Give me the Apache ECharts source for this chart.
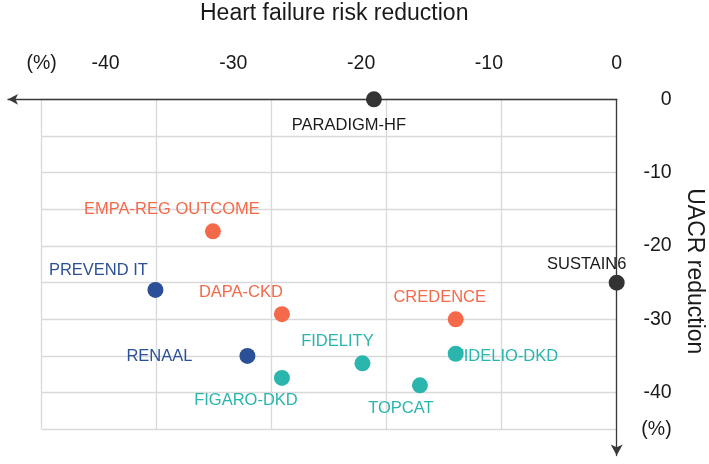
<!DOCTYPE html>
<html>
<head>
<meta charset="utf-8">
<script src="https://cdn.jsdelivr.net/npm/echarts@6/dist/echarts.min.js"></script>
<style>
  html, body { margin: 0; padding: 0; background: #fff; }
  #chart { width: 709px; height: 464px; }
</style>
</head>
<body>
<div id="chart"></div>
<script>
// ---- data ----
const trials = ['PARADIGM-HF', 'SUSTAIN6', 'EMPA-REG OUTCOME', 'DAPA-CKD', 'CREDENCE',
  'PREVEND IT', 'RENAAL', 'FIGARO-DKD', 'FIDELITY', 'TOPCAT', 'FIDELIO-DKD'];
const hfRiskReduction = [-19, 0, -31.6, -26.2, -12.6, -36.1, -28.9, -26.2, -19.9, -15.4, -12.6];
const uacrReduction = [0, -25, -18, -29.3, -30, -26, -35, -38, -36, -39, -34.7];
const drugClass = ['Other', 'Other', 'SGLT2i', 'SGLT2i', 'SGLT2i', 'RASi', 'RASi', 'MRA', 'MRA', 'MRA', 'MRA'];
const classes = ['Other', 'SGLT2i', 'RASi', 'MRA'];
const xTickLabels = ['-40', '-30', '-20', '-10', '0'];
const yTickLabels = ['0', '-10', '-20', '-30', '-40'];
const unitLabel = '(%)';

// ---- styles ----
const classColor = { Other: '#333333', SGLT2i: '#F4694A', RASi: '#2C5097', MRA: '#2AB5AD' };
const labelColor = { Other: '#1a1a1a', SGLT2i: '#F4694A', RASi: '#2C5097', MRA: '#2AB5AD' };
const labelPlace = {
  'PARADIGM-HF': { offset: [-25, 26] },
  'SUSTAIN6': { offset: [-30, -18] },
  'EMPA-REG OUTCOME': { offset: [-41, -22] },
  'DAPA-CKD': { offset: [-41, -22] },
  'CREDENCE': { offset: [-16, -22] },
  'PREVEND IT': { offset: [-57, -20] },
  'RENAAL': { offset: [-88, 0] },
  'FIGARO-DKD': { offset: [-36, 22] },
  'FIDELITY': { offset: [-25, -22] },
  'TOPCAT': { offset: [-19, 23] },
  'FIDELIO-DKD': { offset: [-2, 3], align: 'left' }
};
const FONT = "'Liberation Sans', Arial, sans-serif";

const markerSeries = classes.map(c => ({
  type: 'scatter',
  name: c,
  xAxisIndex: 0,
  yAxisIndex: 0,
  z: 4,
  symbolSize: 16,
  itemStyle: { color: classColor[c], opacity: 1 },
  data: trials.map((t, i) => drugClass[i] === c ? [hfRiskReduction[i], uacrReduction[i]] : null)
              .filter(d => d !== null)
}));

const labelSeries = {
  type: 'scatter',
  name: 'labels',
  xAxisIndex: 0,
  yAxisIndex: 0,
  z: 2,
  symbolSize: 1,
  itemStyle: { color: 'rgba(255,255,255,0)', opacity: 1 },
  silent: true,
  data: trials.map((t, i) => ({
    value: [hfRiskReduction[i], uacrReduction[i]],
    name: t,
    label: {
      show: true,
      position: 'inside',
      formatter: t,
      color: labelColor[drugClass[i]],
      opacity: 1,
      fontFamily: FONT,
      fontSize: 16.5,
      offset: labelPlace[t].offset,
      align: labelPlace[t].align || 'center',
      verticalAlign: 'middle'
    }
  }))
};

const gridColor = '#d9d9d9';
const axisColor = '#3a3a3a';

const option = {
  animation: false,
  backgroundColor: '#ffffff',
  grid: [
    { left: 41.7, right: 92.3, top: 99.3, bottom: 34.7, containLabel: false, outerBoundsMode: 'none' },
    { left: 8, right: 92.3, top: 99.3, bottom: 8.5, containLabel: false, outerBoundsMode: 'none' }
  ],
  xAxis: [
    {
      gridIndex: 0, type: 'value', position: 'top', min: -45, max: 0, interval: 5,
      name: 'Heart failure risk reduction', nameLocation: 'middle', nameGap: 74,
      nameTextStyle: { fontFamily: FONT, fontSize: 23, color: '#1a1a1a', padding: [0, 0, 0, 10] },
      axisLine: { show: false, onZero: false },
      axisTick: { show: false },
      splitLine: { show: false },
      axisLabel: {
        fontFamily: FONT, fontSize: 19.5, color: '#1a1a1a', margin: 26,
        formatter: v => v === -45 ? unitLabel : (xTickLabels.includes(String(v)) ? String(v) : '')
      }
    },
    {
      gridIndex: 0, type: 'value', position: 'bottom', min: -45, max: 0, interval: 9,
      axisLine: { show: false, onZero: false },
      axisTick: { show: false },
      axisLabel: { show: false },
      splitLine: { show: true, lineStyle: { color: gridColor, width: 1.3 } }
    },
    {
      gridIndex: 1, type: 'value', position: 'top', min: 0, max: 1,
      axisLine: {
        show: true, onZero: false, symbol: ['arrow', 'none'], symbolSize: [8, 10],
        lineStyle: { color: axisColor, width: 1.3 }
      },
      axisTick: { show: false },
      axisLabel: { show: false },
      splitLine: { show: false }
    }
  ],
  yAxis: [
    {
      gridIndex: 0, type: 'value', position: 'right', min: -45, max: 0, interval: 5,
      name: 'UACR reduction', nameLocation: 'middle', nameRotate: -90, nameGap: 66,
      nameTextStyle: { fontFamily: FONT, fontSize: 23, color: '#1a1a1a', padding: [0, 0, 0, 14] },
      axisLine: { show: false, onZero: false },
      axisTick: { show: false },
      splitLine: { show: true, lineStyle: { color: gridColor, width: 1.3 } },
      axisLabel: {
        fontFamily: FONT, fontSize: 19.5, color: '#1a1a1a', margin: 55, align: 'right',
        formatter: v => v === -45 ? unitLabel : (yTickLabels.includes(String(v)) ? String(v) : '')
      }
    },
    {
      gridIndex: 1, type: 'value', position: 'right', min: 0, max: 1,
      axisLine: {
        show: true, onZero: false, symbol: ['arrow', 'none'], symbolSize: [9, 11],
        lineStyle: { color: axisColor, width: 1.3 }
      },
      axisTick: { show: false },
      axisLabel: { show: false },
      splitLine: { show: false }
    }
  ],
  series: [labelSeries].concat(markerSeries)
};

const chart = echarts.init(document.getElementById('chart'), null, { renderer: 'canvas' });
chart.setOption(option);
</script>
</body>
</html>
